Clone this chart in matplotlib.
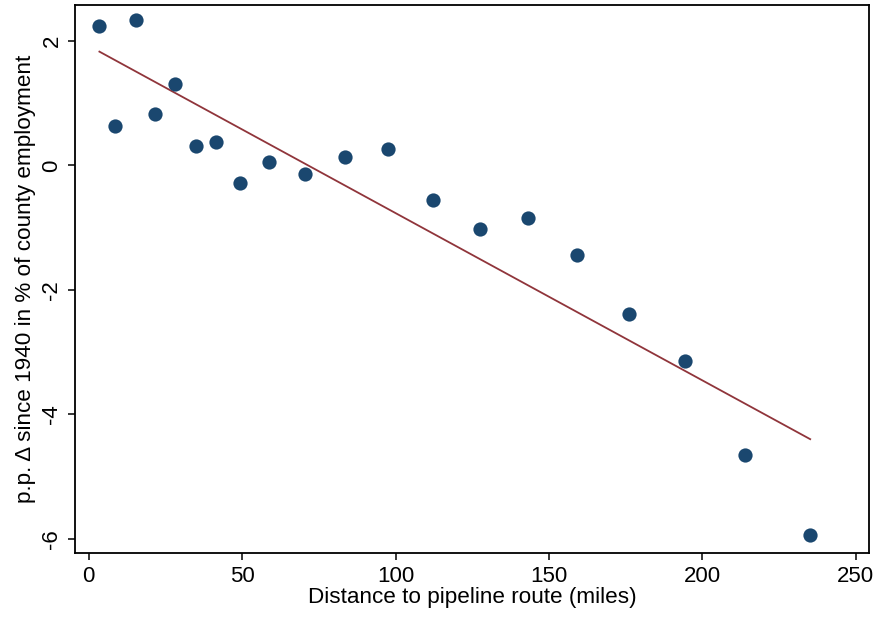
import matplotlib
matplotlib.use("Agg")
import matplotlib.pyplot as plt

distance = [3.4, 8.6, 15.3, 21.6, 28.0, 35.1, 41.5, 49.2, 58.7, 70.5,
            83.5, 97.4, 112.2, 127.5, 143.1, 159.1, 176.1, 194.4, 213.7, 235.1]
change = [2.24, 0.64, 2.34, 0.82, 1.31, 0.31, 0.37, -0.28, 0.05, -0.135,
          0.13, 0.27, -0.55, -1.02, -0.84, -1.44, -2.39, -3.15, -4.65, -5.94]
fit_x = [3.46, 235.1]
fit_y = [1.83, -4.40]
xticks = [0, 50, 100, 150, 200, 250]
yticks = [-6, -4, -2, 0, 2]

plt.rcParams['font.family'] = ['Liberation Sans', 'DejaVu Sans']

fig = plt.figure(figsize=(8.77, 6.21), dpi=100)
ax = fig.add_axes([0.0855, 0.1095, 0.9055, 0.8825])

ax.scatter(distance, change, s=105, color='#1a476f', zorder=3, linewidths=0)
ax.plot(fit_x, fit_y, color='#90353b', lw=1.3, zorder=2)

ax.set_xlim(-4.5, 254.3)
ax.set_ylim(-6.23, 2.58)
ax.set_xticks(xticks)
ax.set_yticks(yticks)
ax.set_yticklabels([str(t) for t in yticks], rotation=90, va='center')
ax.tick_params(direction='out', length=5, width=1.1, pad=4, labelsize=16, colors='black')
for s in ax.spines.values():
    s.set_linewidth(1.3)
ax.set_xlabel('Distance to pipeline route (miles)', fontsize=16.2, labelpad=0)
ax.set_ylabel('p.p. Δ since 1940 in % of county employment', fontsize=16.2, labelpad=4)

fig.savefig('out.png', dpi=100)
